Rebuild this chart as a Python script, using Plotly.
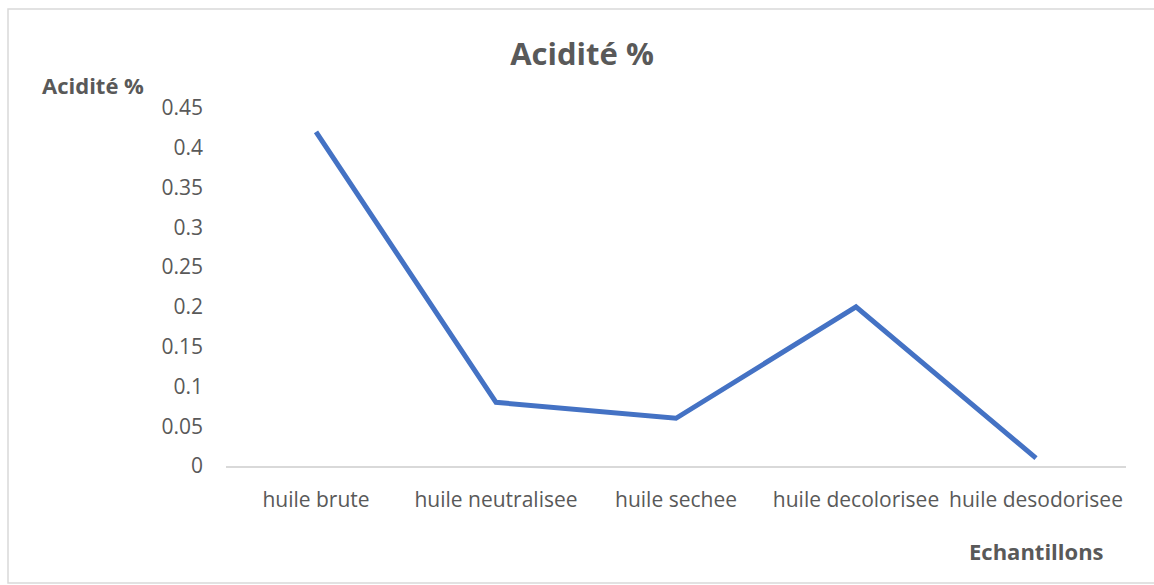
import plotly.graph_objects as go

categories = ["huile brute", "huile neutralisee", "huile sechee", "huile decolorisee", "huile desodorisee"]
acidite = [0.42, 0.08, 0.06, 0.2, 0.01]
y_ticks = [0, 0.05, 0.1, 0.15, 0.2, 0.25, 0.3, 0.35, 0.4, 0.45]
y_tick_text = ["0", "0.05", "0.1", "0.15", "0.2", "0.25", "0.3", "0.35", "0.4", "0.45"]

W, H = 1154, 585
L, R, T, B = 226, 28, 108, 119
pw, ph = W - L - R, H - T - B

def px(x):
    return (x - L) / pw

def py(y):
    return (H - B - y) / ph

FONT = "Open Sans"
GREY = "#595959"

fig = go.Figure()
fig.add_trace(go.Scatter(
    x=categories, y=acidite, mode="lines",
    line=dict(color="#4472C4", width=5),
    hoverinfo="x+y", showlegend=False,
))

fig.update_layout(
    width=W, height=H,
    margin=dict(l=L, r=R, t=T, b=B, autoexpand=False),
    paper_bgcolor="white", plot_bgcolor="white",
    font=dict(family=FONT, color=GREY, size=21),
    title=dict(text="<b>Acidité %</b>", xref="paper", x=px(582), xanchor="center",
               yref="container", y=1 - 54 / H, yanchor="middle",
               font=dict(family=FONT, size=31, color=GREY)),
    xaxis=dict(
        type="category", range=[-0.5, len(categories) - 0.5],
        showgrid=False, zeroline=False, showline=True,
        linecolor="#D9D9D9", linewidth=1.5, ticks="",
        tickfont=dict(family=FONT, size=21, color=GREY),
        ticklabelstandoff=14, fixedrange=True, automargin=False,
    ),
    yaxis=dict(
        range=[0, 0.45], tickvals=y_ticks, ticktext=y_tick_text,
        showgrid=False, zeroline=False, showline=False, ticks="",
        tickfont=dict(family=FONT, size=21, color=GREY),
        ticklabelstandoff=22, fixedrange=True, automargin=False,
    ),
    shapes=[dict(type="rect", xref="paper", yref="paper",
                 x0=px(8), x1=px(1250), y0=py(583), y1=py(9),
                 line=dict(color="#D9D9D9", width=1.5), layer="below")],
    annotations=[
        dict(text="<b>Acidité %</b>", xref="paper", yref="paper",
             x=px(40), y=py(85), xanchor="left", yanchor="middle",
             showarrow=False, font=dict(family=FONT, size=22, color=GREY)),
        dict(text="<b>Echantillons</b>", xref="paper", yref="paper",
             x=px(1106), y=py(551), xanchor="right", yanchor="middle",
             showarrow=False, font=dict(family=FONT, size=22, color=GREY)),
    ],
)

fig.write_html("out.html", config={"displayModeBar": False},
               post_script="document.body.style.margin='0';document.body.style.overflow='hidden';")
